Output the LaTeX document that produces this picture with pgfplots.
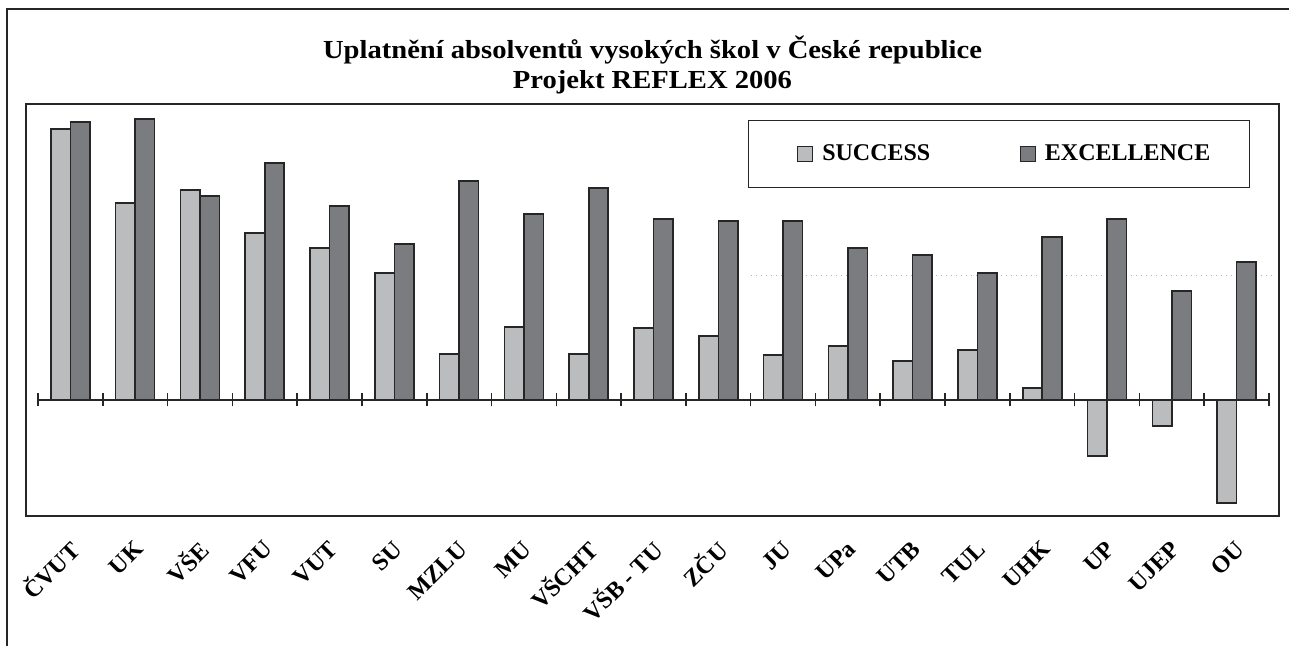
\documentclass[border=0pt]{standalone}
\usepackage{pgfplots}
\pgfplotsset{compat=1.18}
\usepackage{fontspec}
\setmainfont{Liberation Serif}
\newfontfamily\titlefont{Liberation Serif}[FakeStretch=1.1]
\definecolor{barlight}{HTML}{BBBCBE}
\definecolor{bardk}{HTML}{7B7C80}
\definecolor{edge}{HTML}{262626}

\begin{document}
\begin{tikzpicture}[x=1pt,y=1pt]
\useasboundingbox (0,0) rectangle (644.5,323);
\draw[edge, line width=0.7pt] (3.5,-5) -- (3.5,318.5) -- (660,318.5);
\node[font=\titlefont\bfseries\fontsize{13}{15}\selectfont, align=center] at (326.25,290.5)
  {Uplatnění absolventů vysokých škol v České republice\\Projekt REFLEX 2006};

% zero line with ticks
\begin{axis}[
  at={(19pt,65pt)}, anchor=south west,
  width=615.5pt, height=206pt, scale only axis,
  xmin=-0.5, xmax=18.5, ymin=-116, ymax=296,
  axis x line=middle, axis y line=none,
  axis line style={-, edge, line width=0.6pt},
  xtick={-0.5,0.5,...,18.5}, xticklabels={},
  ytick=\empty,
  major tick length=6.5pt, tick align=center,
  tick style={edge, line width=0.8pt},
  clip=false,
]
\addplot[black!30, dotted, line width=0.5pt] coordinates {(10.5,124) (18.6,124)};
\end{axis}

\begin{axis}[
  at={(13pt,65pt)}, anchor=south west,
  width=626.5pt, height=206pt, scale only axis,
  xmin=-0.685, xmax=18.654, ymin=-116, ymax=296,
  ytick=\empty,
  xtick={0,...,18},
  xticklabels={ČVUT, UK, VŠE, VFU, VUT, SU, MZLU, MU, VŠCHT, VŠB - TU, ZČU, JU, UPa, UTB, TUL, UHK, UP, UJEP, OU},
  xticklabel style={yshift=-14.5pt, xshift=2pt, rotate=45, anchor=east, inner sep=0pt, font=\bfseries\fontsize{12}{14}\selectfont},
  major tick length=0pt,
  axis line style={edge, line width=0.8pt},
  ybar=0pt, bar width=9.75pt,
  legend style={at={(0.5762,0.961)}, anchor=north west, draw=edge, line width=0.7pt,
    inner xsep=19.5pt, inner ysep=12pt,
    font=\bfseries\fontsize{12}{14}\selectfont,
    /tikz/every even column/.append style={column sep=40pt},
    nodes={inner sep=0pt}},
  legend columns=2,
  legend image code/.code={\path (-4.5pt,0) (12pt,0); \draw[#1,line width=0.6pt] (0pt,-3.75pt) rectangle (7.5pt,3.75pt);},
]
\addplot[fill=barlight, draw=edge, line width=0.8pt] coordinates {
(0,271) (1,197) (2,210) (3,167) (4,152) (5,127) (6,46) (7,73) (8,46) (9,72)
(10,64) (11,45) (12,54) (13,39) (14,50) (15,12) (16,-56) (17,-26) (18,-103)};
\addplot[fill=bardk, draw=edge, line width=0.8pt] coordinates {
(0,278) (1,281) (2,204) (3,237) (4,194) (5,156) (6,219) (7,186) (8,212) (9,181)
(10,179) (11,179) (12,152) (13,145) (14,127) (15,163) (16,181) (17,109) (18,138)};
\legend{SUCCESS, EXCELLENCE}
\end{axis}
\end{tikzpicture}
\end{document}
